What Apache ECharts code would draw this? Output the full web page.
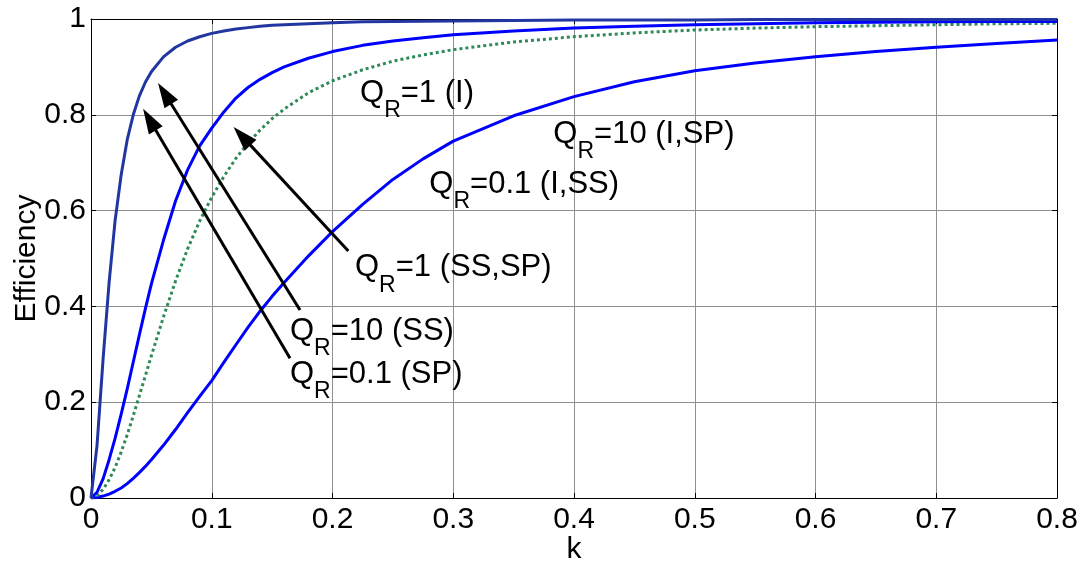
<!DOCTYPE html>
<html>
<head>
<meta charset="utf-8">
<script src="https://cdn.jsdelivr.net/npm/echarts@6/dist/echarts.min.js"></script>
<style>
  html, body { margin: 0; padding: 0; background: #ffffff; }
  #chart { width: 1082px; height: 561px; }
</style>
</head>
<body>
<div id="chart"></div>
<script>
// Coupling coefficient samples (x axis)
const kValues = [0, 0.005, 0.01, 0.015, 0.02, 0.025, 0.03, 0.035, 0.04, 0.045, 0.05, 0.06, 0.07, 0.08, 0.09, 0.1,
  0.11, 0.12, 0.13, 0.14, 0.15, 0.16, 0.18, 0.2, 0.225, 0.25, 0.275, 0.3, 0.35, 0.4, 0.45, 0.5, 0.55, 0.6, 0.65, 0.7, 0.75, 0.8];

// Efficiency curves
const effFast = [0, 0.11, 0.29, 0.45, 0.58, 0.675, 0.748, 0.80, 0.839, 0.868, 0.89, 0.921, 0.941, 0.954, 0.963, 0.970,
  0.975, 0.979, 0.982, 0.985, 0.987, 0.988, 0.990, 0.992, 0.994, 0.995, 0.9955, 0.996, 0.997, 0.998, 0.998, 0.998, 0.999, 0.999, 0.999, 0.999, 0.999, 0.999];
const effSecond = [0, 0.012, 0.04, 0.08, 0.125, 0.175, 0.228, 0.284, 0.34, 0.395, 0.447, 0.538, 0.62, 0.685, 0.735, 0.772,
  0.806, 0.835, 0.857, 0.874, 0.888, 0.9, 0.918, 0.932, 0.945, 0.954, 0.961, 0.967, 0.975, 0.981, 0.985, 0.988, 0.990, 0.992, 0.993, 0.994, 0.995, 0.995];
const effDotted = [0, 0.005, 0.018, 0.038, 0.064, 0.096, 0.132, 0.172, 0.213, 0.255, 0.297, 0.378, 0.453, 0.520, 0.578, 0.628,
  0.671, 0.709, 0.741, 0.768, 0.792, 0.812, 0.846, 0.871, 0.894, 0.912, 0.925, 0.936, 0.952, 0.963, 0.971, 0.977, 0.981, 0.984, 0.986, 0.988, 0.990, 0.991];
const effSlow = [0, 0.001, 0.004, 0.008, 0.014, 0.021, 0.03, 0.041, 0.053, 0.066, 0.08, 0.11, 0.143, 0.178, 0.212, 0.245,
  0.283, 0.32, 0.356, 0.39, 0.421, 0.45, 0.505, 0.556, 0.613, 0.665, 0.708, 0.745, 0.798, 0.838, 0.869, 0.892, 0.908, 0.921, 0.932, 0.941, 0.949, 0.956];

// Tick labels
const xTickLabels = ['0', '0.1', '0.2', '0.3', '0.4', '0.5', '0.6', '0.7', '0.8'];
const yTickLabels = ['0', '0.2', '0.4', '0.6', '0.8', '1'];

// Annotation texts: subscripted Q_R followed by the rest
const annotationTexts = ['=1 (I)', '=10 (I,SP)', '=0.1 (I,SS)', '=1 (SS,SP)', '=10 (SS)', '=0.1 (SP)'];

const FONT = '"Liberation Sans", Arial, Helvetica, sans-serif';
const FS = 30;        // axis text
const NOTE_FS = 31;   // annotation text
const SUB_FS = 23;    // subscript

// Where each annotation sits (data coords of the left edge / vertical middle of the main text)
const annotationAnchors = [
  [0.2228, 0.8455], [0.3829, 0.760], [0.2802, 0.6555],
  [0.2186, 0.4812], [0.1648, 0.3486], [0.1648, 0.2589]
];

// Arrows: tail -> head (head given at the arrowhead centre)
const arrowSegments = [
  { from: [0.1731, 0.3925], to: [0.0610, 0.8445] },
  { from: [0.1648, 0.2916], to: [0.0484, 0.7900] },
  { from: [0.2131, 0.5157], to: [0.1251, 0.7555] }
];

function pairs(ys) { return kValues.map((k, i) => [k, ys[i]]); }

const chart = echarts.init(document.getElementById('chart'), null, { renderer: 'canvas' });

const axisCommon = {
  axisLine: { show: true, onZero: false, lineStyle: { color: '#000', width: 1 } },
  axisTick: { show: true, inside: true, length: 5, lineStyle: { color: '#000', width: 1 } },
};

const option = {
  animation: false,
  backgroundColor: '#ffffff',
  grid: { left: 91, right: 25, top: 19, bottom: 63, containLabel: false, outerBoundsMode: 'none' },
  xAxis: [
    Object.assign({
      type: 'value', min: 0, max: 0.8, interval: 0.1, position: 'bottom',
      name: 'k', nameLocation: 'middle', nameGap: 37, nameMoveOverlap: false,
      nameTextStyle: { fontFamily: FONT, fontSize: FS, color: '#000' },
      axisLabel: {
        margin: 7, fontFamily: FONT, fontSize: FS, color: '#000',
        formatter: v => xTickLabels[Math.round(v / 0.1)]
      },
      splitLine: { show: true, lineStyle: { color: '#8f8f8f', width: 1 } }
    }, axisCommon),
    Object.assign({
      type: 'value', min: 0, max: 0.8, interval: 0.1, position: 'top',
      axisLabel: { show: false }, splitLine: { show: false }
    }, axisCommon)
  ],
  yAxis: [
    Object.assign({
      type: 'value', min: 0, max: 1, interval: 0.2, position: 'left',
      name: 'Efficiency', nameLocation: 'middle', nameGap: 49, nameRotate: 90, nameMoveOverlap: false,
      nameTextStyle: { fontFamily: FONT, fontSize: FS, color: '#000' },
      axisLabel: {
        margin: 5, fontFamily: FONT, fontSize: FS, color: '#000',
        formatter: v => yTickLabels[Math.round(v / 0.2)]
      },
      splitLine: { show: true, lineStyle: { color: '#8f8f8f', width: 1 } }
    }, axisCommon),
    Object.assign({
      type: 'value', min: 0, max: 1, interval: 0.2, position: 'right',
      axisLabel: { show: false }, splitLine: { show: false }
    }, axisCommon)
  ],
  series: [
    {
      type: 'line', name: 'slow', data: pairs(effSlow), showSymbol: false, symbol: 'none',
      lineStyle: { color: '#0000ff', width: 3, join: 'round' }, z: 3
    },
    {
      type: 'line', name: 'dotted', data: pairs(effDotted), showSymbol: false, symbol: 'none',
      lineStyle: { color: '#2e8b57', width: 3, type: [3, 3], cap: 'butt' }, z: 3
    },
    {
      type: 'line', name: 'second', data: pairs(effSecond), showSymbol: false, symbol: 'none',
      lineStyle: { color: '#0000ff', width: 3, join: 'round' }, z: 3
    },
    {
      type: 'line', name: 'fast', data: pairs(effFast), showSymbol: false, symbol: 'none',
      lineStyle: { color: '#2236a2', width: 3, join: 'round' }, z: 3
    },
    {
      type: 'line', name: 'arrows', data: [], symbol: 'none', z: 5,
      markLine: {
        silent: true, animation: false,
        symbol: ['none', 'triangle'],
        lineStyle: { color: '#000', width: 3, type: 'solid' },
        label: { show: false },
        emphasis: { disabled: true },
        data: arrowSegments.map(s => [
          { coord: s.from, symbol: 'none' },
          { coord: s.to, symbol: 'triangle', symbolSize: [16, 25] }
        ])
      }
    }
  ]
};

chart.setOption(option);

// Annotation labels with a subscript R, placed via the grid's coordinate system
const measureCtx = document.createElement('canvas').getContext('2d');
function textWidth(str, size) {
  measureCtx.font = size + 'px ' + FONT;
  return measureCtx.measureText(str).width;
}

const graphics = [];
annotationTexts.forEach((txt, i) => {
  const [px, py] = chart.convertToPixel({ gridIndex: 0 }, annotationAnchors[i]);
  const wQ = textWidth('Q', NOTE_FS);
  const wR = textWidth('R', SUB_FS);
  const base = { fill: '#000', verticalAlign: 'middle', align: 'left' };
  graphics.push({ type: 'text', x: px, y: py, z: 10,
    style: Object.assign({ text: 'Q', font: NOTE_FS + 'px ' + FONT }, base) });
  graphics.push({ type: 'text', x: px + wQ, y: py + 18, z: 10,
    style: Object.assign({ text: 'R', font: SUB_FS + 'px ' + FONT }, base) });
  graphics.push({ type: 'text', x: px + wQ + wR, y: py, z: 10,
    style: Object.assign({ text: txt, font: NOTE_FS + 'px ' + FONT }, base) });
});
chart.setOption({ graphic: graphics });
</script>
</body>
</html>
